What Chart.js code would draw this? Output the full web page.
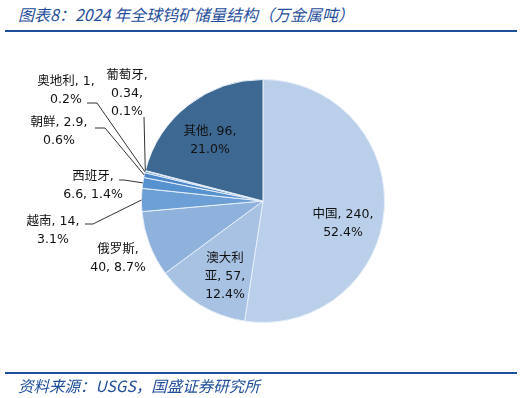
<!DOCTYPE html>
<html lang="zh">
<head>
    <meta charset="UTF-8">
    <title>2024年全球钨矿储量结构</title>
    <script src="https://cdn.jsdelivr.net/npm/chart.js"></script>
    <style>
        body {
            margin: 0;
            padding: 0;
            background: #fff;
        }
        #wrap {
            position: relative;
            width: 526px;
            height: 398px;
            overflow: hidden;
        }
        #title {
            position: absolute;
            left: 18px;
            top: 2px;
            font: italic 16px "Noto Sans CJK SC", sans-serif;
            color: #1f4e9b;
            white-space: nowrap;
        }
        .rule {
            position: absolute;
            left: 5px;
            width: 512px;
            height: 2px;
            background: #1c4f9c;
        }
        #source {
            position: absolute;
            left: 18px;
            top: 374px;
            font: italic 15.5px "Noto Sans CJK SC", sans-serif;
            color: #1f4e9b;
            white-space: nowrap;
        }
        #chart {
            position: absolute;
            left: 0;
            top: 0;
        }
    </style>
</head>
<body>
<div id="wrap">
    <div id="title">图表8：2024 年全球钨矿储量结构（万金属吨）</div>
    <div class="rule" style="top:30px"></div>
    <canvas id="chart" width="526" height="398"></canvas>
    <div class="rule" style="top:372px"></div>
    <div id="source">资料来源：USGS，国盛证券研究所</div>
</div>

<script>
    // data (万金属吨)
    const countries = ['中国', '澳大利亚', '俄罗斯', '越南', '西班牙', '朝鲜', '奥地利', '葡萄牙', '其他'];
    const reserves = [240, 57, 40, 14, 6.6, 2.9, 1, 0.34, 96];

    // styling
    const sliceColors = ['#bad0ea', '#a8c2e3', '#8fb2dd', '#6c9fd6', '#5792d0', '#4c88c9', '#4a80bb', '#4676aa', '#3d6891'];

    // label layout: tokens per line, label centre relative to pie centre
    const lineTokens = [[3, 1], [3, 2, 1], [3, 2], [3, 1], [3, 2], [3, 1], [4, 1], [3, 1, 1], [3, 1]];
    const labelPos = [[80, 23], [-38, 76], [-145, 58], [-210, 30], [-170, -15], [-204, -69], [-197, -110], [-136, -107], [-53, -60]];
    // leader line: start point relative to pie centre and horizontal elbow length (null = no leader)
    const leaders = [null, null, null, [-178, 23, 8], [-144, -21, 5], [-168, -73, 10], [-176, -98, 10], [-119, -84, 0], null];

    const total = reserves.reduce((s, v) => s + v, 0);

    function tokenize(str) {
        return str.match(/[\u4e00-\u9fff][,，]?|\s*[^\s\u4e00-\u9fff]+/g);
    }

    const labelPlugin = {
        id: 'sliceLabels',
        afterDatasetsDraw(chart) {
            const ctx = chart.ctx;
            const meta = chart.getDatasetMeta(0);
            ctx.save();
            ctx.font = '12.5px "DejaVu Sans", "Noto Sans CJK SC", sans-serif';
            ctx.fillStyle = '#111';
            ctx.textAlign = 'center';
            ctx.textBaseline = 'middle';
            meta.data.forEach((arc, i) => {
                const cx = arc.x, cy = arc.y;
                const pct = (reserves[i] / total * 100).toFixed(1);
                const tokens = tokenize(countries[i] + ', ' + reserves[i] + ', ' + pct + '%');
                const lines = [];
                let k = 0;
                lineTokens[i].forEach(n => {
                    lines.push(tokens.slice(k, k + n).join('').trim());
                    k += n;
                });
                const lh = 18;
                const lx = cx + labelPos[i][0];
                const ly = cy + labelPos[i][1] - (lines.length - 1) * lh / 2;
                lines.forEach((t, j) => ctx.fillText(t, lx, ly + j * lh));

                const ld = leaders[i];
                if (ld) {
                    const mid = (arc.startAngle + arc.endAngle) / 2;
                    const ex = cx + Math.cos(mid) * arc.outerRadius;
                    const ey = cy + Math.sin(mid) * arc.outerRadius;
                    ctx.beginPath();
                    ctx.strokeStyle = '#333';
                    ctx.lineWidth = 1;
                    ctx.moveTo(cx + ld[0], cy + ld[1]);
                    ctx.lineTo(cx + ld[0] + ld[2], cy + ld[1]);
                    ctx.lineTo(ex, ey);
                    ctx.stroke();
                }
            });
            ctx.restore();
        }
    };

    new Chart(document.getElementById('chart').getContext('2d'), {
        type: 'pie',
        data: {
            labels: countries,
            datasets: [{
                data: reserves,
                backgroundColor: sliceColors,
                borderColor: '#e6eef8',
                borderWidth: 1
            }]
        },
        options: {
            responsive: false,
            animation: false,
            layout: {
                padding: { top: 79, bottom: 75, left: 141, right: 141 }
            },
            plugins: {
                legend: { display: false },
                tooltip: { enabled: false }
            }
        },
        plugins: [labelPlugin]
    });
</script>
</body>
</html>
